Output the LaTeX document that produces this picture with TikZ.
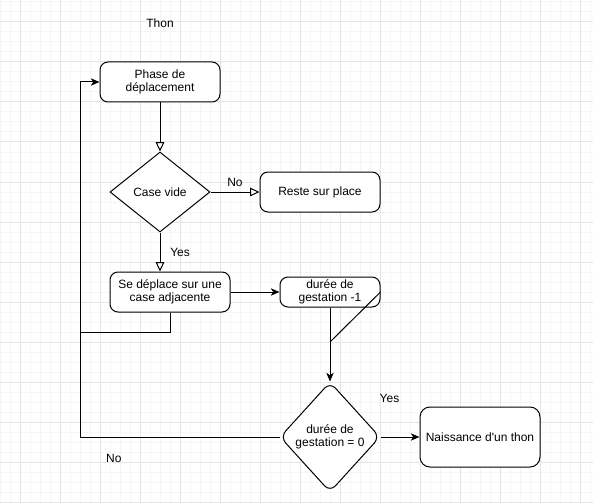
\documentclass[tikz,border=0pt]{standalone}
\usepackage{fontspec}
\setmainfont{Liberation Sans}
\usepackage{tikz}
\usetikzlibrary{arrows.meta,shapes.geometric}

\definecolor{gridminor}{RGB}{245,245,245}
\definecolor{gridmajor}{RGB}{229,229,229}

\begin{document}
\begin{tikzpicture}[
  every node/.style={font=\fontsize{9}{10.2}\selectfont},
  box/.style  ={rounded corners=6pt,draw,align=center,inner sep=1pt,
                line width=0.75pt,fill=white,
                minimum width=90pt,minimum height=30pt},
  boxs/.style ={rounded corners=6pt,draw,align=center,inner sep=1pt,
                line width=0.75pt,fill=white,
                minimum width=75pt,minimum height=22.5pt},
  boxl/.style ={rounded corners=7.5pt,draw,align=center,inner sep=1pt,
                line width=0.75pt,fill=white,
                minimum width=90pt,minimum height=45pt},
  dec/.style  ={diamond,draw,inner sep=0pt,line width=0.75pt,fill=white,
                minimum width=75pt,minimum height=60pt},
  decr/.style ={diamond,draw,inner sep=0pt,line width=0.75pt,fill=white,
                rounded corners=6pt,
                minimum width=75pt,minimum height=82.5pt},
  lo/.style   ={-{Triangle[open,length=7pt,width=6.5pt]},line width=0.75pt},
  lf/.style   ={-{Stealth[length=6.5pt,width=5.5pt,inset=1.8pt]},line width=0.75pt},
  ln/.style   ={line width=0.75pt},
  x=0.75pt,y=-0.75pt]

  \useasboundingbox (0,0) rectangle (593,503);

  % ===== GRID =====
  \foreach \gx in {0,10,...,590} \draw[gridminor,line width=0.75pt] (\gx,0) -- (\gx,503);
  \foreach \gy in {2,12,...,502} \draw[gridminor,line width=0.75pt] (0,\gy) -- (593,\gy);
  \foreach \gx in {20,60,...,580} \draw[gridmajor,line width=0.75pt] (\gx,0) -- (\gx,503);
  \foreach \gy in {22,62,...,502} \draw[gridmajor,line width=0.75pt] (0,\gy) -- (593,\gy);

  % ===== NODES =====
  \node (title) at (160,23) {Thon};
  \node[box]  (phase) at (160, 82) {Phase de\\déplacement};
  \node[dec,label={center:Case vide}] (vide) at (160,192) {};
  \node[box]  (reste) at (320,192) {Reste sur place};
  \node[box]  (move)  at (170,292) {Se déplace sur une\\case adjacente};
  \node[boxs] (gest)  at (330,292) {durée de\\gestation -1};
  \node[decr,label={[align=center]center:durée de\\gestation = 0}] (zero) at (330,437) {};
  \node[boxl] (birth) at (480,437) {Naissance d\textquotesingle un thon};

  \coordinate (kink)  at (330,342);
  \coordinate (lpmid) at ( 80,332);
  \coordinate (lpbot) at ( 80,437);

  % ===== ARROWS =====
  \draw[lo] (phase.south) -- (vide.north);
  \draw[lo] (vide.east) -- node[above]{No} (reste.west);
  \draw[lo] (vide.south) -- node[right,xshift=4pt]{Yes} (vide.south |- move.north);
  \draw[lf] (move.east) -- (gest.west);
  \draw[lf] (gest.south) -- (zero.north);
  \draw[ln] (gest.east) -- (kink);
  \draw[lf] (zero.east) -- node[pos=0.23,above,yshift=22pt]{Yes} (birth.west);
  % loop back (No)
  \draw[ln] (move.south) |- (lpmid);
  \draw[lf] (zero.west) -- node[pos=0.83,below,yshift=-9pt]{No} (lpbot) |- (phase.west);

\end{tikzpicture}
\end{document}
